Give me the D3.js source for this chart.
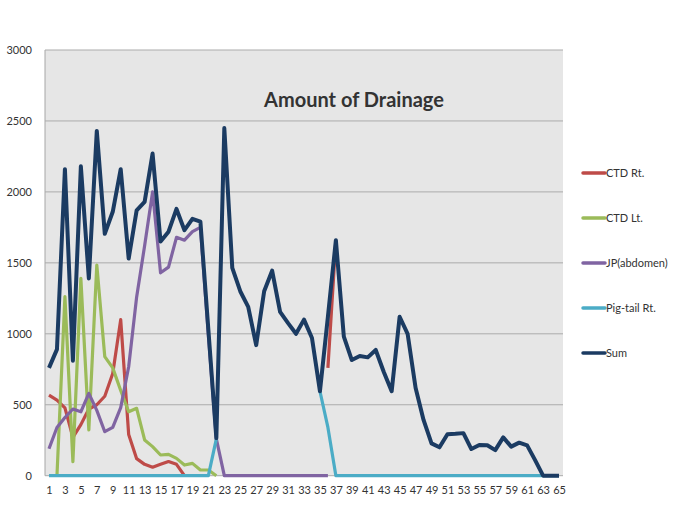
<!DOCTYPE html>
<html>
<head>
<meta charset="utf-8">
<script src="https://cdn.jsdelivr.net/npm/d3@7"></script>
<style>
  html, body { margin: 0; padding: 0; background: #fff; }
  svg { display: block; }
  text { font-family: Lato, "Open Sans", sans-serif; fill: #333; }
</style>
</head>
<body>
<svg id="chart" width="685" height="506"></svg>
<script>
// ---- data ----
const days = d3.range(1, 66);
const yTicks = [0, 500, 1000, 1500, 2000, 2500, 3000];
const xTickLabels = d3.range(1, 66, 2);
const seriesNames = ["CTD Rt.", "CTD Lt.", "JP(abdomen)", "Pig-tail Rt.", "Sum"];

const n = (k) => Array(k).fill(null);
const z = (k) => Array(k).fill(0);

const ctdRt = [568, 532, 478, 270, 360, 470, 500, 560, 720, 1100, 290, 120, 80, 60, 80, 100, 80, 0]
  .concat(n(17), [760, 1660], n(28));
const ctdLt = [null, 0, 1262, 99, 1391, 322, 1485, 839, 760, 600, 451, 475, 252, 205, 146, 150, 122, 75, 87, 40, 40, 0]
  .concat(n(43));
const jp = [190, 340, 410, 470, 450, 580, 460, 310, 340, 480, 768, 1260, 1620, 2000, 1430, 1470, 1680, 1660, 1720, 1750, 990, 260]
  .concat(z(14), n(29));
const pigTail = z(21).concat([260], n(12), [595, 340], z(29));
const sum = [760, 890, 2160, 810, 2180, 1390, 2430, 1705, 1860, 2160, 1530, 1870, 1930, 2270, 1650, 1720, 1880, 1730, 1810, 1790,
  1030, 265, 2450, 1465, 1300, 1190, 920, 1300, 1445, 1155, 1075, 1000, 1100, 970, 595, 1120, 1660, 980, 815, 843,
  834, 886, 733, 595, 1120, 1000, 620, 393, 228, 200, 292, 295, 300, 188, 216, 215, 180, 270, 205, 233,
  214, 110, 0, 0, 0];

const seriesValues = [ctdRt, ctdLt, jp, pigTail, sum];
const colors = ["#be4b48", "#9bbb59", "#8064a2", "#4bacc6", "#1b3b62"];
const widths = [3.2, 3.2, 3.2, 3.2, 4];

// ---- layout ----
const svg = d3.select("#chart");
const plot = { left: 45, right: 563, top: 50, bottom: 475.7 };

const x = d3.scalePoint().domain(days).range([plot.left, plot.right]).padding(0.5);
const y = d3.scaleLinear().domain([0, 3000]).range([plot.bottom, plot.top]);

svg.append("rect")
  .attr("x", plot.left).attr("y", plot.top)
  .attr("width", plot.right - plot.left).attr("height", plot.bottom - plot.top)
  .attr("fill", "#e6e6e6");

svg.append("line")
  .attr("x1", plot.left).attr("x2", plot.left)
  .attr("y1", plot.top).attr("y2", plot.bottom)
  .attr("stroke", "#a6a6a6").attr("stroke-width", 1);

svg.append("g").selectAll("line").data(yTicks).join("line")
  .attr("x1", plot.left).attr("x2", plot.right)
  .attr("y1", d => y(d)).attr("y2", d => y(d))
  .attr("stroke", "#ababab").attr("stroke-width", 1);

// axes
const yAxis = svg.append("g")
  .attr("transform", `translate(${plot.left},0)`)
  .call(d3.axisLeft(y).tickValues(yTicks).tickFormat(d3.format("d")).tickSize(0).tickPadding(13));
yAxis.select(".domain").remove();
yAxis.selectAll("text").style("font-size", "11px").style("font-family", "Lato, sans-serif").attr("fill", "#333");

const xAxis = svg.append("g")
  .attr("transform", `translate(0,${plot.bottom})`)
  .call(d3.axisBottom(x).tickValues(xTickLabels).tickSize(0).tickPadding(11));
xAxis.select(".domain").remove();
xAxis.selectAll("text").style("font-size", "11px").style("font-family", "Lato, sans-serif").attr("fill", "#333");

// lines
const line = d3.line()
  .defined(d => d.v !== null)
  .x(d => x(d.day))
  .y(d => y(d.v));

seriesValues.forEach((vals, i) => {
  const pts = days.map((day, j) => ({ day, v: vals[j] }));
  svg.append("path")
    .datum(pts)
    .attr("d", line)
    .attr("fill", "none")
    .attr("stroke", colors[i])
    .attr("stroke-width", widths[i])
    .attr("stroke-linejoin", "round");
});

// title
svg.append("text")
  .attr("x", 354).attr("y", 107)
  .attr("text-anchor", "middle")
  .style("font-size", "20px").style("font-weight", "bold")
  .attr("fill", "#000")
  .text("Amount of Drainage");

// legend
const legY = d3.scalePoint().domain(seriesNames).range([173, 353]);
const leg = svg.append("g").selectAll("g").data(seriesNames).join("g")
  .attr("transform", d => `translate(583,${legY(d)})`);
leg.append("line")
  .attr("x1", 0).attr("x2", 22).attr("y1", 0).attr("y2", 0)
  .attr("stroke", (d, i) => colors[i]).attr("stroke-width", 3.5)
  .attr("stroke-linecap", "round");
leg.append("text")
  .attr("x", 23).attr("y", 0).attr("dy", "0.35em")
  .style("font-size", "11px")
  .attr("fill", "#333")
  .text(d => d);
</script>
</body>
</html>
